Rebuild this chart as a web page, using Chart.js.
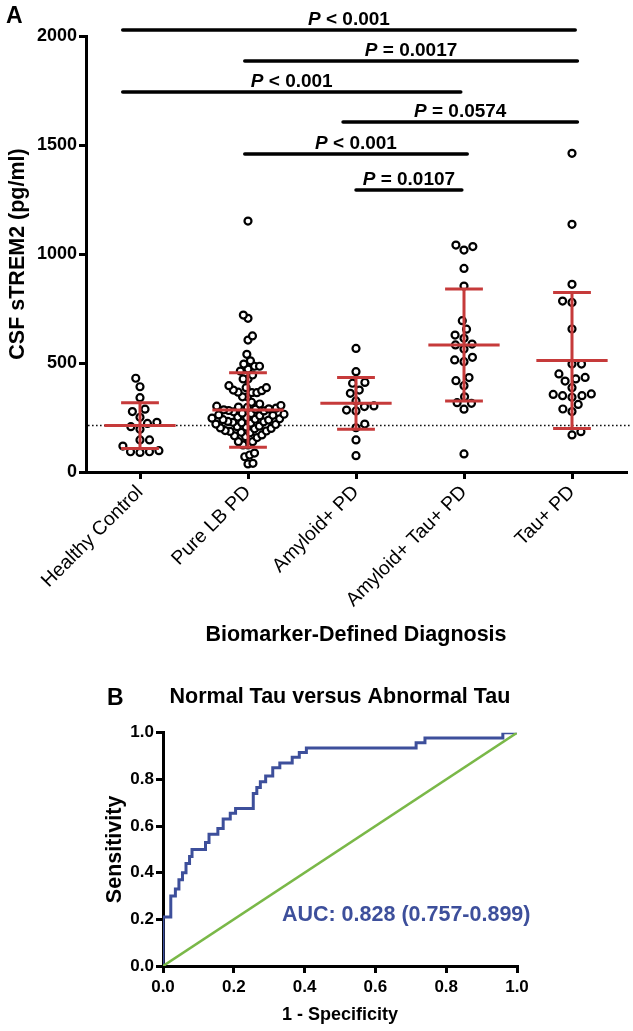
<!DOCTYPE html>
<html>
<head>
<meta charset="utf-8">
<script src="https://cdn.jsdelivr.net/npm/chart.js@4.4.1/dist/chart.umd.min.js"></script>
<style>
  body { margin: 0; background: #fff; }
  .panel { position: absolute; left: 0; }
  #wrapA { top: 0; }
  #wrapB { top: 655px; }
</style>
</head>
<body>
<div class="panel" id="wrapA"><canvas id="panelA" width="633" height="655"></canvas></div>
<div class="panel" id="wrapB"><canvas id="panelB" width="633" height="376"></canvas></div>
<script>
// ---- panel A data (pg/ml) ----
const groups = ['Healthy Control', 'Pure LB PD', 'Amyloid+ PD', 'Amyloid+ Tau+ PD', 'Tau+ PD'];

const healthyControl = [430, 391, 341, 277, 288, 251, 223, 196, 208, 228, 147, 147, 119, 93, 90, 93, 98];
const pureLbPd = [
  1151, 720, 705, 624, 605, 540, 510, 495, 485, 485, 472, 463, 445, 427, 427, 396, 387, 387,
  376, 373, 366, 364, 364, 345, 345, 320, 312,
  302, 298, 296, 293, 305, 288, 285, 280, 282, 276, 290, 268, 265, 262, 270, 258, 260,
  250, 247, 244, 240, 252, 238, 242, 230, 228, 224, 220, 226, 218, 232,
  210, 206, 202, 198, 208, 200, 190, 186, 182, 180, 188, 170, 166, 162, 158,
  139, 139, 124, 124, 87, 78, 70, 40, 37,
];
const amyloidPd = [567, 460, 407, 411, 376, 361, 326, 303, 284, 280, 300, 220, 203, 147, 75];
const amyloidTauPd = [1041, 1018, 1034, 934, 853, 694, 655, 613, 628, 583, 564, 587, 526, 506, 514, 419, 433, 396, 345, 315, 318, 288, 83];
const tauPd = [1462, 1136, 861, 778, 784, 656, 495, 495, 450, 427, 417, 434, 387, 358, 350, 343, 350, 356, 310, 289, 277, 170, 185];

const groupMeans = [213, 284, 315, 583, 511];
const groupSD = [105, 171, 119, 257, 312];
const referenceLine = 213;
const yTicksA = [0, 500, 1000, 1500, 2000];

// significance bars: from / to (group axis), height (pg/ml), label
const sigFrom = [-0.16, 0.97, -0.16, 1.88, 0.97, 2.0];
const sigTo = [4.03, 4.05, 2.97, 4.05, 3.03, 2.98];
const sigLevel = [2028, 1885, 1743, 1606, 1459, 1294];
const sigText = ['< 0.001', '= 0.0017', '< 0.001', '= 0.0574', '< 0.001', '= 0.0107'];

// ---- panel B data ----
const rocFpr = [
  0, 0, 0.022, 0.022, 0.035, 0.035, 0.045, 0.045, 0.055, 0.055, 0.065, 0.065,
  0.075, 0.075, 0.082, 0.082, 0.12, 0.12, 0.13, 0.13, 0.155, 0.155, 0.17, 0.17,
  0.19, 0.19, 0.205, 0.205, 0.255, 0.255, 0.265, 0.265, 0.275, 0.275, 0.29, 0.29,
  0.31, 0.31, 0.33, 0.33, 0.365, 0.365, 0.385, 0.385, 0.405, 0.405, 0.715, 0.715,
  0.74, 0.74, 0.96, 0.96, 1.0,
];
const rocTpr = [
  0, 0.21, 0.21, 0.3, 0.3, 0.33, 0.33, 0.37, 0.37, 0.4, 0.4, 0.44,
  0.44, 0.47, 0.47, 0.5, 0.5, 0.53, 0.53, 0.565, 0.565, 0.59, 0.59, 0.63,
  0.63, 0.655, 0.655, 0.675, 0.675, 0.74, 0.74, 0.765, 0.765, 0.79, 0.79, 0.815,
  0.815, 0.85, 0.85, 0.87, 0.87, 0.895, 0.895, 0.915, 0.915, 0.935, 0.935, 0.957,
  0.957, 0.978, 0.978, 1.0, 1.0,
];
const chanceX = [0, 1];
const chanceY = [0, 1];
const rocTicks = [0, 0.2, 0.4, 0.6, 0.8, 1.0];
const aucLabel = 'AUC: 0.828 (0.757-0.899)';

const FONT = "'Liberation Sans', Arial, Helvetica, sans-serif";
Chart.defaults.font.family = FONT;
Chart.defaults.color = '#000';

const RED = '#c63a3a';
const BLUE = '#3d4f9b';
const GREEN = '#7ab848';

// approx. pixel sizes used to lay out the dot swarm
const PX_PER_VALUE = 436 / 2000;
const PX_PER_GROUP = 108;
const MAX_SPREAD = 36; // px either side of the group centre

// simple beeswarm: place each dot at the smallest sideways offset that doesn't collide,
// then squeeze the whole group if it gets wider than MAX_SPREAD (like Prism does)
const beeswarm = (values, minDist) => {
  const placed = [];
  let side = 1;
  const sorted = values.slice().sort((a, b) => a - b);
  sorted.forEach((v) => {
    const y = v * PX_PER_VALUE;
    const blocks = [];
    placed.forEach((p) => {
      const dy = Math.abs(p.y - y);
      if (dy < minDist) {
        const w = Math.sqrt(minDist * minDist - dy * dy);
        blocks.push([p.x - w, p.x + w]);
      }
    });
    const candidates = [0];
    blocks.forEach(([a, b]) => candidates.push(a, b));
    candidates.sort((a, b) => {
      const d = Math.abs(a) - Math.abs(b);
      if (Math.abs(d) > 1e-6) return d;
      return Math.sign(b) * side - Math.sign(a) * side;
    });
    const x = candidates.find((c) => blocks.every(([a, b]) => c <= a + 1e-6 || c >= b - 1e-6));
    if (Math.abs(x) > 1e-6) side = -Math.sign(x);
    placed.push({ x, y, v });
  });
  const widest = Math.max(...placed.map((p) => Math.abs(p.x)));
  const squeeze = widest > MAX_SPREAD ? MAX_SPREAD / widest : 1;
  return placed.map((p) => ({ dx: (p.x * squeeze) / PX_PER_GROUP, y: p.v }));
};

const groupData = [healthyControl, pureLbPd, amyloidPd, amyloidTauPd, tauPd];

const datasetsA = groupData.map((vals, i) => ({
  label: groups[i],
  data: beeswarm(vals, 9.5).map((p) => ({ x: i + p.dx, y: p.y })),
  pointRadius: 3.5,
  pointHoverRadius: 3.5,
  pointBorderWidth: 2.2,
  borderColor: '#000',
  backgroundColor: '#fff',
}));

const drawPLabel = (ctx, text, cx, baseline) => {
  const italic = 'italic bold 19px ' + FONT;
  const bold = 'bold 19px ' + FONT;
  const rest = ' ' + text;
  ctx.font = italic;
  const w1 = ctx.measureText('P').width;
  ctx.font = bold;
  const w2 = ctx.measureText(rest).width;
  const x0 = cx - (w1 + w2) / 2;
  ctx.textAlign = 'left';
  ctx.textBaseline = 'alphabetic';
  ctx.font = italic;
  ctx.fillText('P', x0, baseline);
  ctx.font = bold;
  ctx.fillText(rest, x0 + w1, baseline);
};

const panelAExtras = {
  id: 'panelAExtras',
  beforeDatasetsDraw(chart) {
    const { ctx, chartArea, scales } = chart;
    const ry = scales.y.getPixelForValue(referenceLine);
    ctx.save();
    ctx.setLineDash([1.6, 2.4]);
    ctx.lineWidth = 1.6;
    ctx.strokeStyle = '#111';
    ctx.beginPath();
    ctx.moveTo(chartArea.left + 2, ry);
    ctx.lineTo(chartArea.right + 4, ry);
    ctx.stroke();
    ctx.restore();
  },
  afterDatasetsDraw(chart) {
    const { ctx, scales } = chart;
    const { x, y } = scales;
    ctx.save();
    // mean +/- SD
    ctx.strokeStyle = RED;
    ctx.lineWidth = 3;
    groupMeans.forEach((m, i) => {
      const cx = x.getPixelForValue(i);
      const my = y.getPixelForValue(m);
      const hi = y.getPixelForValue(m + groupSD[i]);
      const lo = y.getPixelForValue(m - groupSD[i]);
      const halfMean = x.getPixelForValue(i + 0.33) - cx;
      const halfCap = x.getPixelForValue(i + 0.175) - cx;
      ctx.beginPath();
      ctx.moveTo(cx, hi);
      ctx.lineTo(cx, lo);
      ctx.moveTo(cx - halfMean, my);
      ctx.lineTo(cx + halfMean, my);
      ctx.moveTo(cx - halfCap, hi);
      ctx.lineTo(cx + halfCap, hi);
      ctx.moveTo(cx - halfCap, lo);
      ctx.lineTo(cx + halfCap, lo);
      ctx.stroke();
    });
    // significance bars
    ctx.strokeStyle = '#000';
    ctx.fillStyle = '#000';
    ctx.lineWidth = 3.5;
    ctx.lineCap = 'round';
    sigLevel.forEach((lvl, i) => {
      const x1 = x.getPixelForValue(sigFrom[i]);
      const x2 = x.getPixelForValue(sigTo[i]);
      const by = y.getPixelForValue(lvl);
      ctx.beginPath();
      ctx.moveTo(x1, by);
      ctx.lineTo(x2, by);
      ctx.stroke();
      drawPLabel(ctx, sigText[i], (x1 + x2) / 2, by - 5);
    });
    ctx.restore();
  },
  afterDraw(chart) {
    const { ctx } = chart;
    ctx.save();
    ctx.font = 'bold 23px ' + FONT;
    ctx.fillStyle = '#000';
    ctx.textBaseline = 'alphabetic';
    ctx.fillText('A', 6, 23);
    ctx.restore();
  },
};

const axisStyle = {
  grid: { drawOnChartArea: false, tickLength: 7, tickWidth: 3, tickColor: '#000', lineWidth: 3 },
  border: { color: '#000', width: 3 },
};

new Chart(document.getElementById('panelA'), {
  type: 'scatter',
  data: { datasets: datasetsA },
  options: {
    responsive: false,
    animation: false,
    events: [],
    layout: { padding: { top: 36, right: 7, left: 0, bottom: 0 } },
    plugins: { legend: { display: false }, tooltip: { enabled: false } },
    scales: {
      x: {
        type: 'linear',
        min: -0.5,
        max: 4.5,
        afterFit: (s) => { s.height = 183; },
        afterBuildTicks: (s) => { s.ticks = groups.map((g, i) => ({ value: i })); },
        ticks: {
          autoSkip: false,
          minRotation: 45,
          maxRotation: 45,
          padding: 2,
          color: '#000',
          font: { size: 19.5 },
          callback: (v) => groups[Math.round(v)],
        },
        ...axisStyle,
        title: {
          display: true,
          text: 'Biomarker-Defined Diagnosis',
          color: '#000',
          font: { size: 21.5, weight: 'bold' },
          padding: { top: 0, bottom: 7 },
        },
      },
      y: {
        min: 0,
        max: 2000,
        afterFit: (s) => { s.width = 86; },
        afterBuildTicks: (s) => { s.ticks = yTicksA.map((v) => ({ value: v })); },
        ticks: {
          padding: 2,
          color: '#000',
          font: { size: 18, weight: 'bold' },
          callback: (v) => String(v),
        },
        ...axisStyle,
        title: {
          display: true,
          text: 'CSF sTREM2 (pg/ml)',
          color: '#000',
          font: { size: 21.5, weight: 'bold' },
          padding: { top: 5, bottom: 0 },
        },
      },
    },
  },
  plugins: [panelAExtras],
});

// ---- panel B ----
const panelBExtras = {
  id: 'panelBExtras',
  afterDraw(chart) {
    const { ctx, scales } = chart;
    ctx.save();
    ctx.font = 'bold 23px ' + FONT;
    ctx.fillStyle = '#000';
    ctx.textBaseline = 'alphabetic';
    ctx.fillText('B', 107, 50);
    ctx.font = 'bold 21.5px ' + FONT;
    ctx.fillStyle = BLUE;
    ctx.textAlign = 'center';
    ctx.textBaseline = 'middle';
    ctx.fillText(aucLabel, scales.x.getPixelForValue(0.687), scales.y.getPixelForValue(0.22));
    ctx.restore();
  },
};

new Chart(document.getElementById('panelB'), {
  type: 'scatter',
  data: {
    datasets: [
      {
        label: 'Reference',
        data: chanceX.map((v, i) => ({ x: v, y: chanceY[i] })),
        showLine: true,
        borderColor: GREEN,
        borderWidth: 2.6,
        pointRadius: 0,
      },
      {
        label: 'ROC',
        data: rocFpr.map((v, i) => ({ x: v, y: rocTpr[i] })),
        showLine: true,
        borderColor: BLUE,
        borderWidth: 3,
        pointRadius: 0,
      },
    ],
  },
  options: {
    responsive: false,
    animation: false,
    events: [],
    layout: { padding: { top: 0, right: 116, left: 0, bottom: 0 } },
    plugins: {
      legend: { display: false },
      tooltip: { enabled: false },
      title: {
        display: true,
        fullSize: false,
        text: 'Normal Tau versus Abnormal Tau',
        color: '#000',
        font: { size: 21.5, weight: 'bold' },
        padding: { top: 29, bottom: 23 },
      },
    },
    scales: {
      x: {
        type: 'linear',
        min: 0,
        max: 1,
        afterFit: (s) => { s.height = 65; },
        afterBuildTicks: (s) => { s.ticks = rocTicks.map((v) => ({ value: v })); },
        ticks: {
          padding: 4,
          color: '#000',
          font: { size: 17, weight: 'bold' },
          callback: (v) => v.toFixed(1),
        },
        ...axisStyle,
        title: {
          display: true,
          text: '1 - Specificity',
          color: '#000',
          font: { size: 18, weight: 'bold' },
          padding: { top: 0, bottom: 5 },
        },
      },
      y: {
        min: 0,
        max: 1,
        z: 1,
        afterFit: (s) => { s.width = 163; },
        afterBuildTicks: (s) => { s.ticks = rocTicks.map((v) => ({ value: v })); },
        ticks: {
          padding: 2,
          color: '#000',
          font: { size: 17, weight: 'bold' },
          callback: (v) => v.toFixed(1),
        },
        ...axisStyle,
        title: {
          display: true,
          text: 'Sensitivity',
          color: '#000',
          font: { size: 21.5, weight: 'bold' },
          padding: { top: 102, bottom: 0 },
        },
      },
    },
  },
  plugins: [panelBExtras],
});
</script>
</body>
</html>
